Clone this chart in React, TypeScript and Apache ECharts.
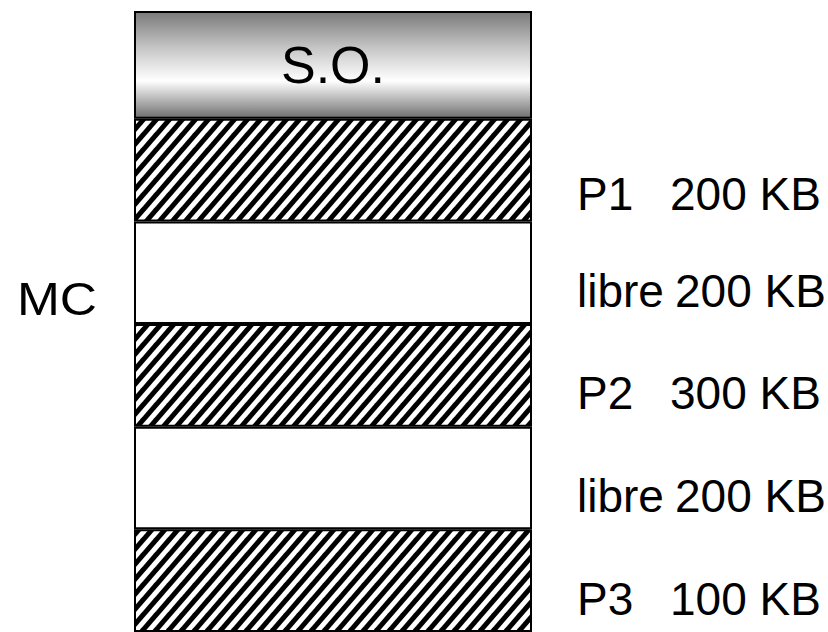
import React, { useEffect, useRef } from 'react';
import * as echarts from 'echarts';

// Memory map (top to bottom). Slots are drawn almost equal (diagram not to scale).
const blockNames = ['S.O.', 'P1', 'libre', 'P2', 'libre', 'P3'];
const blockSizes = ['', '200 KB', '200 KB', '300 KB', '200 KB', '100 KB'];
const blockKinds = ['os', 'proc', 'free', 'proc', 'free', 'proc'];
const slotHeights = [1.05, 1, 1, 1, 1, 1];
const categories = ['MC'];
const memoryLabel = 'MC';

const FONT = '"Liberation Sans", Arial, Helvetica, sans-serif';

function makeHatch(): HTMLCanvasElement {
  const w = 13;
  const h = 15;
  const c = document.createElement('canvas');
  c.width = w;
  c.height = h;
  const ctx = c.getContext('2d')!;
  ctx.fillStyle = '#ffffff';
  ctx.fillRect(0, 0, w, h);
  ctx.strokeStyle = '#000000';
  ctx.lineWidth = 5;
  ctx.lineCap = 'square';
  for (const x0 of [-w, 0, w]) {
    ctx.beginPath();
    ctx.moveTo(x0, h);
    ctx.lineTo(x0 + w, 0);
    ctx.stroke();
  }
  return c;
}

export default function App() {
  const ref = useRef<HTMLDivElement>(null);

  useEffect(() => {
    document.body.style.margin = '0';
    if (!ref.current) return;
    const chart = echarts.init(ref.current, undefined, { renderer: 'svg' });
    const hatch = makeHatch();

    const osGradient = new echarts.graphic.LinearGradient(0, 0, 0, 1, [
      { offset: 0, color: '#7a7a7a' },
      { offset: 0.35, color: '#c8c8c8' },
      { offset: 0.65, color: '#ffffff' },
      { offset: 1, color: '#707070' },
    ]);

    const series = blockNames.map((name, i) => {
      const kind = blockKinds[i];
      const color =
        kind === 'os' ? osGradient : kind === 'proc' ? { image: hatch, repeat: 'repeat' } : '#ffffff';
      const label =
        kind === 'os'
          ? {
              show: true,
              position: 'inside',
              formatter: name,
              fontSize: 52,
              fontFamily: FONT,
              color: '#000',
            }
          : {
              show: true,
              position: 'right',
              distance: 45,
              offset: [0, i === 1 ? 24 : 18],
              formatter: `{n|${name}}{s|${blockSizes[i]}}`,
              fontSize: 46,
              fontFamily: FONT,
              color: '#000',
              rich: {
                n: { width: kind === 'free' ? 98 : 93, fontSize: 46, fontFamily: FONT, color: '#000' },
                s: { fontSize: 46, fontFamily: FONT, color: '#000' },
              },
            };
      return {
        type: 'bar',
        name,
        stack: 'mem',
        barCategoryGap: '0%',
        barWidth: '100%',
        data: [slotHeights[i]],
        itemStyle: { color, borderColor: '#000', borderWidth: 2 },
        label,
        silent: true,
      };
    });

    chart.setOption({
      animation: false,
      grid: { left: 134, right: 296, top: 11, bottom: -4, containLabel: false },
      xAxis: { type: 'category', data: categories, show: false },
      yAxis: { type: 'value', inverse: true, min: 0, max: 6.05, show: false },
      graphic: [
        {
          type: 'text',
          x: 57,
          y: 298.5,
          scaleX: 1.12,
          style: {
            text: memoryLabel,
            fontSize: 46,
            fontFamily: FONT,
            fill: '#000',
            align: 'center',
            textAlign: 'center',
            verticalAlign: 'middle',
            textVerticalAlign: 'middle',
          },
        },
      ],
      series,
    } as any);

    return () => {
      chart.dispose();
    };
  }, []);

  return <div ref={ref} style={{ width: 828, height: 632 }} />;
}
